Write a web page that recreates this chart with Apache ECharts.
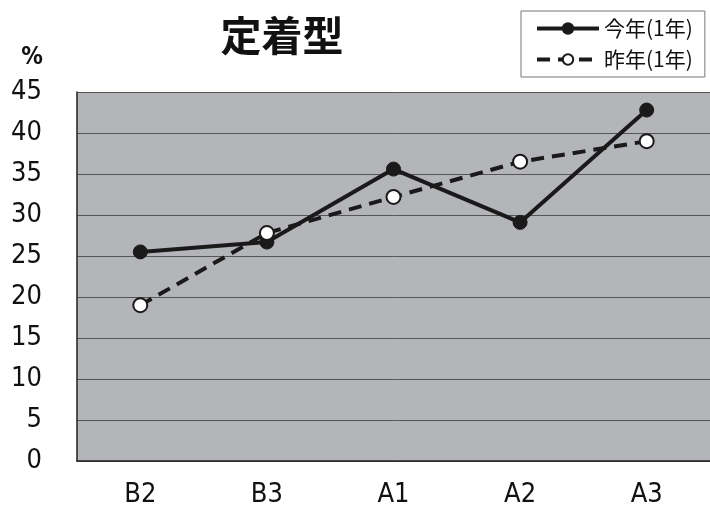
<!DOCTYPE html>
<html><head><meta charset="utf-8">
<script src="https://cdn.jsdelivr.net/npm/echarts@6/dist/echarts.min.js"></script>
<style>html,body{margin:0;padding:0;background:#fff}#c{width:710px;height:508px}</style>
</head><body><div id="c"></div>
<script>
const categories = ['B2','B3','A1','A2','A3'];
const thisYear = [25.5, 26.7, 35.6, 29.1, 42.8];
const lastYear = [19.0, 27.8, 32.2, 36.5, 39.0];
const yTicks = [0,5,10,15,20,25,30,35,40,45];
const seriesNames = ['今年(1年)','昨年(1年)'];
const title = '定着型';
const unit = '%';

const font = '"DejaVu Sans Condensed","Liberation Sans Narrow","Liberation Sans",sans-serif';
const cjk = '"Noto Sans CJK JP",sans-serif';
const chart = echarts.init(document.getElementById('c'));
chart.setOption({
  animation:false,
  backgroundColor:'#fff',
  title:{text:title,left:277,top:10,textAlign:'center',
    textStyle:{fontFamily:cjk,fontSize:41,fontWeight:'bold',color:'#111'}},
  legend:{left:521,top:11,orient:'vertical',itemWidth:62,itemHeight:13,itemGap:10,
    backgroundColor:'#fff',borderColor:'#777',borderWidth:1,padding:[7,12,7,14],
    lineStyle:{width:4},
    textStyle:{fontFamily:cjk,fontSize:21,color:'#111'},
    data:seriesNames},
  grid:{left:77,right:0,top:92,bottom:47,backgroundColor:'#b4b5b9',show:true,borderWidth:0},
  xAxis:{type:'category',data:categories,boundaryGap:true,
    axisLine:{lineStyle:{color:'#222',width:1.5}},
    axisTick:{inside:true,length:8,lineStyle:{color:'#444'}},
    axisLabel:{fontFamily:font,fontSize:27,color:'#111',margin:20}},
  yAxis:{type:'value',min:0,max:45,interval:5,name:unit,
    nameLocation:'end',nameGap:22,
    nameTextStyle:{fontFamily:font,fontSize:24,fontWeight:'bold',color:'#111',align:'right',padding:[0,34,0,0]},
    axisLine:{show:true,lineStyle:{color:'#222',width:1.5}},
    axisTick:{show:false},
    splitLine:{lineStyle:{color:'#555',width:1}},
    axisLabel:{fontFamily:font,fontSize:27,color:'#111',margin:35,
      formatter:v=>yTicks.includes(v)?String(v):''}},
  series:[
    {name:seriesNames[0],type:'line',data:thisYear,symbol:'circle',symbolSize:14,
      lineStyle:{color:'#1a1a1a',width:4},itemStyle:{color:'#1a1a1a',borderColor:'#1a1a1a',borderWidth:1}},
    {name:seriesNames[1],type:'line',data:lastYear,symbol:'circle',symbolSize:14,
      lineStyle:{color:'#1a1a1a',width:4,type:[13,8]},itemStyle:{color:'#fff',borderColor:'#1a1a1a',borderWidth:2}}
  ]
});
</script></body></html>
